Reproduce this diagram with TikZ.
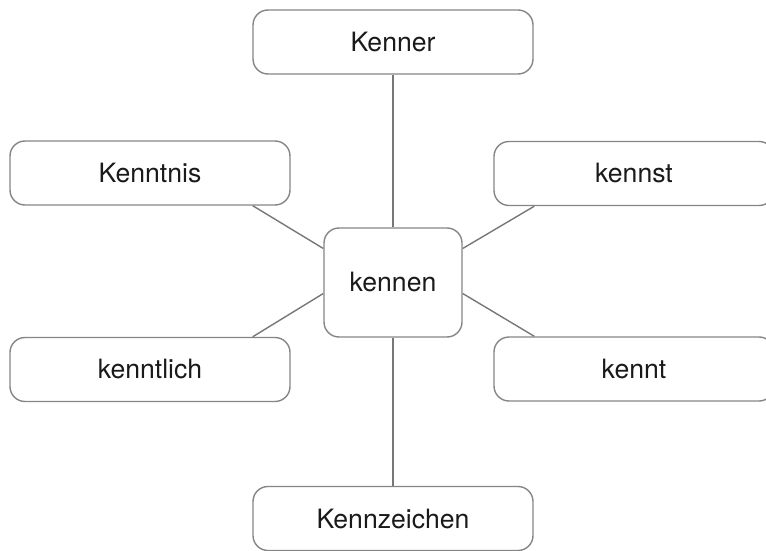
\documentclass[tikz,border=0pt]{standalone}
\usepackage{xcolor}
\usepackage{fontspec}
\setmainfont{TeX Gyre Heros}
\usepackage{tikz}
\definecolor{boxgray}{HTML}{858585}
\definecolor{linegray}{HTML}{777777}
\definecolor{textblack}{HTML}{1A1A1A}

\begin{document}
\begin{tikzpicture}[x=1pt,y=-1pt,thick,
  word node/.style={draw=boxgray,line width=1.4pt,rounded corners=15pt,minimum width=280pt,minimum height=64pt,inner sep=0pt,text=textblack,font=\fontsize{26.6}{30}\selectfont},
  root node/.style={word node,minimum width=138pt,minimum height=109pt},
  link/.style={draw=linegray,line width=1.4pt}]
  \useasboundingbox (0,0) rectangle (766,551);
  \node[root node] (kennen) at (393,282.5) {kennen};
  \node[word node] (kenner) at (393,42) {Kenner};
  \node[word node] (kenntnis) at (150,173) {Kenntnis};
  \node[word node] (kennst) at (634,173.5) {kennst};
  \node[word node] (kenntlich) at (150,369.5) {kenntlich};
  \node[word node] (kennt) at (634,369) {kennt};
  \node[word node] (kennzeichen) at (393,518.5) {Kennzeichen};

  \path[link]
  (kenner) edge (kennen)
  ([xshift=-38pt]kenntnis.south east) edge ([yshift=34pt]kennen.west)
  ([xshift=41pt]kennst.south west) edge ([yshift=34pt]kennen.east)
  ([xshift=-38pt]kenntlich.north east) edge ([yshift=-11pt]kennen.west)
  ([xshift=41pt]kennt.north west) edge ([yshift=-11pt]kennen.east)
  (kennen) edge (kennzeichen);
\end{tikzpicture}
\end{document}
